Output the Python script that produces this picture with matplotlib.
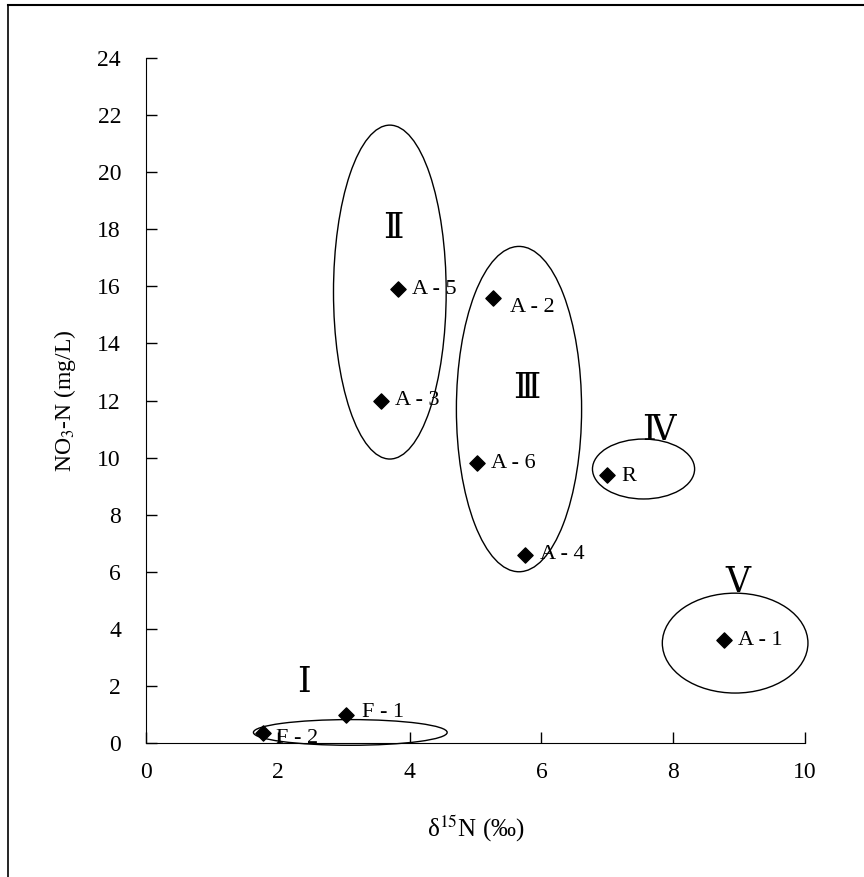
"""NO3-N vs delta15N scatter with group ellipses."""
import matplotlib
matplotlib.use("Agg")
import matplotlib.pyplot as plt
from matplotlib.patches import Ellipse

# sample values
names = ["F-2", "F-1", "A-5", "A-3", "A-2", "A-6", "A-4", "R", "A-1"]
d15n = [1.78, 3.03, 3.83, 3.57, 5.27, 5.03, 5.75, 7.0, 8.77]
no3n = [0.35, 0.98, 15.9, 12.0, 15.6, 9.8, 6.6, 9.4, 3.6]
# label offsets in points
lab_dx = [9, 12, 10, 10, 12, 10, 11, 10, 10]
lab_dy = [-4, 2, 0, 0, -7, 0, 0, -1, 0]

# group ellipses: centre x, centre y, width, height
groups = ["Ⅰ", "Ⅱ", "Ⅲ", "Ⅳ", "Ⅴ"]
ell_x = [3.1, 3.7, 5.66, 7.55, 8.94]
ell_y = [0.37, 15.8, 11.7, 9.6, 3.5]
ell_w = [2.94, 1.71, 1.9, 1.55, 2.21]
ell_h = [0.9, 11.7, 11.4, 2.1, 3.5]
grp_x = [2.39, 3.75, 5.78, 7.79, 8.98]
grp_y = [2.1, 18.0, 12.4, 10.9, 5.6]

plt.rcParams["font.family"] = ["Liberation Serif", "DejaVu Serif"]
plt.rcParams["mathtext.fontset"] = "stix"

fig = plt.figure(figsize=(8.64, 8.77), dpi=100)
ax = fig.add_axes([0.169, 0.1528, 0.7627, 0.781])

# page frame from the scan
fig.add_artist(plt.Line2D([0.009, 0.009], [0.0, 0.994], color="black", lw=1.2))
fig.add_artist(plt.Line2D([0.009, 1.0], [0.994, 0.994], color="black", lw=1.5))

ax.scatter(d15n, no3n, marker="D", s=60, color="black", zorder=3, clip_on=False)
for n, x, y, dx, dy in zip(names, d15n, no3n, lab_dx, lab_dy):
    ax.annotate(n.replace("-", " - "), (x, y), xytext=(dx, dy), textcoords="offset points",
                ha="left", va="center", fontsize=16)

for cx, cy, w, h in zip(ell_x, ell_y, ell_w, ell_h):
    ax.add_patch(Ellipse((cx, cy), w, h, fill=False, ec="black", lw=1.0, clip_on=False))
for g, x, y in zip(groups, grp_x, grp_y):
    ax.text(x, y, g, ha="center", va="center", fontsize=25)

ax.set_xlim(0, 10)
ax.set_ylim(0, 24)
ax.set_xticks(range(0, 11, 2))
ax.set_yticks(range(0, 25, 2))
ax.spines[["top", "right"]].set_visible(False)
ax.tick_params(direction="in", length=8, width=1, labelsize=17, pad=14)
ax.tick_params(axis="y", pad=18)
ax.set_xlabel(r"δ$^{15}$N (‰)", fontsize=18, labelpad=22)
ax.set_ylabel(r"NO$_3$-N (mg/L)", fontsize=17, labelpad=14)

plt.savefig("out.png", dpi=100)
